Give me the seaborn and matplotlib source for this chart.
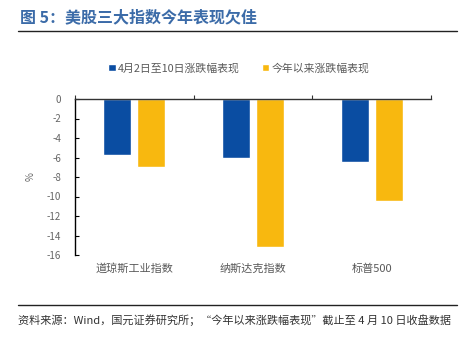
import matplotlib
matplotlib.use("Agg")
import matplotlib.pyplot as plt
import seaborn as sns
import pandas as pd
from matplotlib.lines import Line2D
from matplotlib.patches import Patch

categories = ["道琼斯工业指数", "纳斯达克指数", "标普500"]
series_names = ["4月2日至10日涨跌幅表现", "今年以来涨跌幅表现"]
week_change = [-5.75, -6.1, -6.5]
ytd_change = [-6.95, -15.2, -10.5]
yticks = [0, -2, -4, -6, -8, -10, -12, -14, -16]

sns.set_theme(style="white")
plt.rcParams['font.family'] = ['Noto Sans CJK SC', 'DejaVu Sans']

df = pd.DataFrame({
    "cat": categories * 2,
    "series": [series_names[0]] * 3 + [series_names[1]] * 3,
    "val": week_change + ytd_change,
})

colors = ["#0A4DA2", "#F8B80F"]
fig = plt.figure(figsize=(4.68, 3.38), dpi=100)
ax = fig.add_axes([75/468, 1-255/338, (431-75)/468, (255-99)/338])
sns.barplot(data=df, x="cat", y="val", hue="series", palette=colors,
            width=0.576, gap=0.18, ax=ax, legend=False, saturation=1)

ax.set_ylim(-16, 0)
ax.set_xlim(-0.5, 2.5)
ax.set_yticks(yticks)
ax.set_yticklabels([str(v) for v in yticks], fontsize=7, color="#666666")
ax.set_xticks([0, 1, 2])
ax.set_xticklabels(categories, fontsize=8, color="#595959")
ax.set_xticks([-0.5, 0.5, 1.5, 2.5], minor=True)
ax.tick_params(axis='x', which='major', length=0, pad=6)
ax.tick_params(axis='x', which='minor', top=True, bottom=False, direction='out', length=3, color="#333333", width=0.8)
ax.tick_params(axis='y', which='major', left=True, direction='in', length=3, color="#000000", width=0.8, pad=10)
for s in ["right", "bottom"]:
    ax.spines[s].set_visible(False)
ax.spines["left"].set_color("#000000")
ax.spines["left"].set_linewidth(1.0)
ax.spines["top"].set_color("#333333")
ax.spines["top"].set_linewidth(1.0)
ax.set_xlabel("")
ax.set_ylabel("%", fontsize=7, color="#666666", labelpad=8)

handles = [Patch(facecolor=colors[0], label=series_names[0]),
           Patch(facecolor=colors[1], label=series_names[1])]
fig.legend(handles=handles, loc="center", bbox_to_anchor=(0.51, 1-68/338), ncol=2,
           frameon=False, fontsize=7.8, handlelength=0.7, handleheight=0.7,
           handletextpad=0.2, columnspacing=2.0, labelcolor="#595959")

fig.text(20/468, 1-17/338, "图 5：美股三大指数今年表现欠佳", fontsize=11.5, fontweight="bold",
         color="#3B6BA8", va="center", ha="left")
fig.add_artist(Line2D([18/468, 457/468], [1-31/338, 1-31/338], color="#222222", lw=1.0))
fig.add_artist(Line2D([18/468, 457/468], [1-305/338, 1-305/338], color="#222222", lw=1.0))
fig.text(18/468, 1-320/338, "资料来源：Wind，国元证券研究所；“今年以来涨跌幅表现”截止至 4 月 10 日收盘数据",
         fontsize=8, color="#333333", va="center", ha="left")

fig.savefig("out.png", dpi=100)
